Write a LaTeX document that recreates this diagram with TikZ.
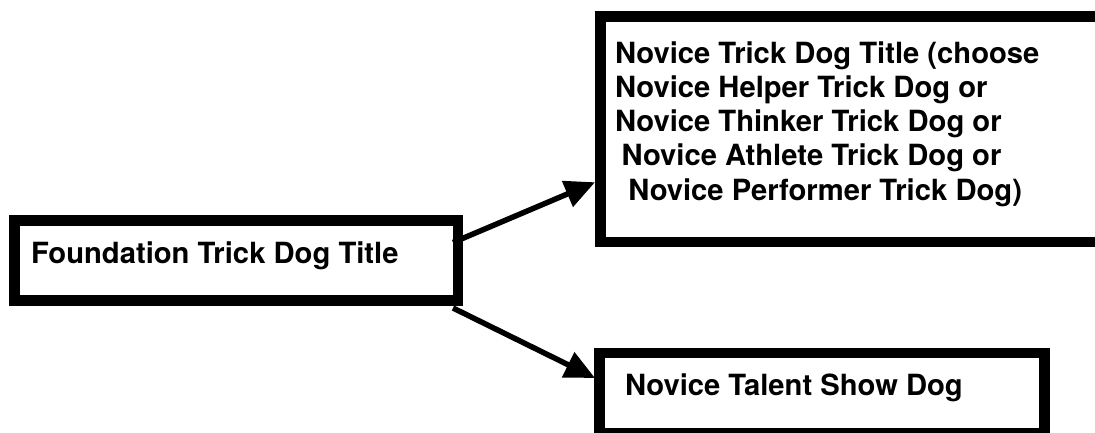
\documentclass[tikz,border=0pt]{standalone}
\usepackage{fontspec}
\setmainfont{TeX Gyre Heros}
\usetikzlibrary{arrows.meta}
\begin{document}
\begin{tikzpicture}[x=1pt,y=-1pt,
  boxstyle/.style={draw=black,line width=10.5pt,inner sep=0pt,outer sep=0pt,anchor=north west},
  txt/.style={inner sep=0pt,outer sep=0pt,anchor=base west,align=left,
    font=\bfseries\fontsize{29.2}{34.3}\selectfont},
  arr/.style={line width=5.5pt,-{Triangle[length=30pt,width=27pt]}}]
\useasboundingbox (0,0) rectangle (1095,433);
\node[boxstyle,minimum width=443.5pt,minimum height=80pt] (fnd) at (14.5,220.5) {};
\node[boxstyle,minimum width=510pt,minimum height=225.5pt] (nov) at (600.5,16.5) {};
\node[boxstyle,minimum width=445pt,minimum height=80pt] (tal) at (599.5,353) {};
\node[txt] (fndt) at (31,263) {Foundation Trick Dog Title};
\node[txt] (novt) at (615,200.2) {Novice Trick Dog Title (choose\\Novice Helper Trick Dog or\\Novice Thinker Trick Dog or\\\hspace*{6.7pt}Novice Athlete Trick Dog or\\\hspace*{13.4pt}Novice Performer Trick Dog)};
\node[txt] (talt) at (625,395.6) {Novice Talent Show Dog};
\draw[arr] ([xshift=-5pt,yshift=18pt]fnd.east) -- ([xshift=-5.5pt,yshift=-53pt]nov.west);
\draw[arr] ([xshift=-5pt,yshift=-7.5pt]fnd.south east) -- ([xshift=-4.5pt,yshift=15pt]tal.west);
\end{tikzpicture}
\end{document}
